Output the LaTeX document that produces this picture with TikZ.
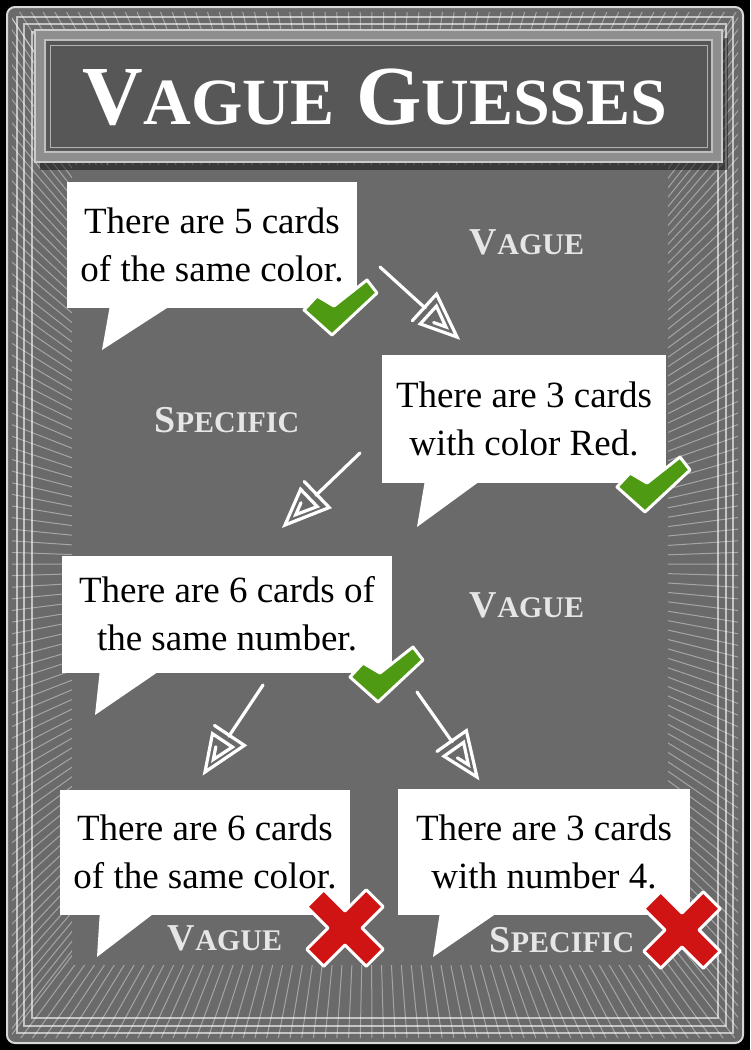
\documentclass[tikz,border=0pt]{standalone}
\usepackage{fontspec}
\setmainfont{Liberation Serif}
\usetikzlibrary{calc}
\definecolor{cardgray}{HTML}{6A6A6A}
\definecolor{bannergray}{HTML}{575757}
\definecolor{bannerband}{HTML}{8E8E8E}
\definecolor{checkgreen}{HTML}{4E9A12}
\definecolor{crossred}{HTML}{D01414}
\definecolor{labelwhite}{HTML}{E6E6E6}

\newcommand{\bubblefont}{\fontsize{37}{48}\selectfont}
\newcommand{\capsword}[2]{{\fontsize{38}{38}\selectfont #1}{\fontsize{30}{30}\selectfont #2}}
\newcommand{\titleword}[2]{{\fontsize{84}{84}\selectfont #1}{\fontsize{66}{66}\selectfont #2}}

\begin{document}
\begin{tikzpicture}[x=1pt,y=-1pt,
    bubble/.style={fill=white, inner sep=0pt, align=center, font=\bubblefont},
    tail/.style={fill=white},
    lbl/.style={text=labelwhite, font=\bfseries},
    arrowline/.style={draw=white, line width=3.2pt, line cap=round, line join=miter},
    frameline/.style={draw=white, opacity=0.6, line width=1.1pt},
    hatch/.style={draw=white, opacity=0.4, line width=1pt},
    checkmark/.pic={
        \draw[white, line width=3pt, line join=round, fill=checkgreen]
            (0,0) -- (-28,-25) -- (-15,-39) -- (2,-29) -- (35,-55) -- (45,-42) -- cycle;
    },
    crossmark/.pic={
        \draw[white, line width=3pt, line join=round, fill=crossred, rotate=45]
            (12,12) -- (12,42) -- (-12,42) -- (-12,12) -- (-42,12) -- (-42,-12)
            -- (-12,-12) -- (-12,-42) -- (12,-42) -- (12,-12) -- (42,-12) -- (42,12) -- cycle;
    },
    spiralhead/.pic={
        \draw[arrowline] (-44,18) -- (-44,-18) -- (0,0) -- (-36,15) -- (-36,-9) -- (-15,0) -- (-27,5);
    }]
    \useasboundingbox (0,0) rectangle (750,1050);
    \fill[black] (0,0) rectangle (750,1050);

    % card and frame
    \filldraw[fill=cardgray, draw=white!85!black, line width=2pt, rounded corners=8pt] (7,7) rectangle (743,1043);
    \begin{scope}[even odd rule]
        \clip (12,12) rectangle (738,1038) (72,165) rectangle (668,965);
        \coordinate (hub) at (370,565);
        \foreach \i in {0,12,...,750} {
            \draw[hatch] (hub) -- (\i,0);
            \draw[hatch] (hub) -- (\i,1050);
        }
        \foreach \j in {0,12,...,1050} {
            \draw[hatch] (hub) -- (0,\j);
            \draw[hatch] (hub) -- (750,\j);
        }
    \end{scope}
    \draw[frameline] (17,17) rectangle (733,1033);
    \draw[frameline] (24,24) rectangle (726,1026);
    \draw[frameline] (32,32) rectangle (718,1018);

    % title banner
    \fill[black, opacity=0.45] (40,38) rectangle (728,170);
    \filldraw[fill=bannerband, draw=white!80!black, line width=1.5pt] (35,30) rectangle (722,162);
    \filldraw[fill=bannergray, draw=white!75!black, line width=1.5pt] (45,40) rectangle (712,152);
    \draw[white!70!black, line width=0.8pt] (50,45) rectangle (707,147);
    \node[text=white, font=\bfseries] (title) at (375,97) {\titleword{V}{AGUE}\hspace{22pt}\titleword{G}{UESSES}};

    % labels
    \node[lbl] (vague1) at (527,242) {\capsword{V}{AGUE}};
    \node[lbl] (specific1) at (227,420) {\capsword{S}{PECIFIC}};
    \node[lbl] (vague2) at (527,605) {\capsword{V}{AGUE}};
    \node[lbl] (vague3) at (225,938) {\capsword{V}{AGUE}};
    \node[lbl] (specific2) at (562,940) {\capsword{S}{PECIFIC}};

    % speech bubbles
    \node[bubble, minimum width=290pt, minimum height=126pt] (ba) at (212,245) {There are 5 cards\\of the same color.};
    \node[bubble, minimum width=284pt, minimum height=128pt] (bb) at (524,419) {There are 3 cards\\with color Red.};
    \node[bubble, minimum width=330pt, minimum height=117pt] (bc) at (227,614) {There are 6 cards of\\the same number.};
    \node[bubble, minimum width=290pt, minimum height=125pt] (bd) at (205,852) {There are 6 cards\\of the same color.};
    \node[bubble, minimum width=292pt, minimum height=126pt] (be) at (544,852) {There are 3 cards\\with number 4.};

    \coordinate (tipa) at (102,350);
    \coordinate (tipb) at (417,527);
    \coordinate (tipc) at (95,715);
    \coordinate (tipd) at (97,957);
    \coordinate (tipe) at (433,957);
    \fill[tail] ($(ba.south west)+(43,-2)$) -- (tipa) -- ($(ba.south west)+(103,-2)$) -- cycle;
    \fill[tail] ($(bb.south west)+(43,-2)$) -- (tipb) -- ($(bb.south west)+(98,-2)$) -- cycle;
    \fill[tail] ($(bc.south west)+(38,-2)$) -- (tipc) -- ($(bc.south west)+(98,-2)$) -- cycle;
    \fill[tail] ($(bd.south west)+(40,-2)$) -- (tipd) -- ($(bd.south west)+(95,-2)$) -- cycle;
    \fill[tail] ($(be.south west)+(42,-2)$) -- (tipe) -- ($(be.south west)+(99,-2)$) -- cycle;

    % marks
    \pic at (332,335) {checkmark};
    \pic at (645,512) {checkmark};
    \pic at (378,702) {checkmark};
    \pic at (345,928) {crossmark};
    \pic at (682,930) {crossmark};

    % arrows
    \coordinate (as1) at (380,267);
    \coordinate (at1) at (457,337);
    \coordinate (as2) at (360,453);
    \coordinate (at2) at (285,525);
    \coordinate (as3) at (263,685);
    \coordinate (at3) at (205,772);
    \coordinate (as4) at (417,692);
    \coordinate (at4) at (477,777);
    \foreach \s/\t in {as1/at1, as2/at2, as3/at3, as4/at4} {
        \draw[arrowline, shorten >=43pt] (\s) -- (\t);
        \path let \p1 = ($(\t)-(\s)$), \n1 = {atan2(\y1,\x1)} in (\t) pic[rotate=\n1] {spiralhead};
    }
\end{tikzpicture}
\end{document}
